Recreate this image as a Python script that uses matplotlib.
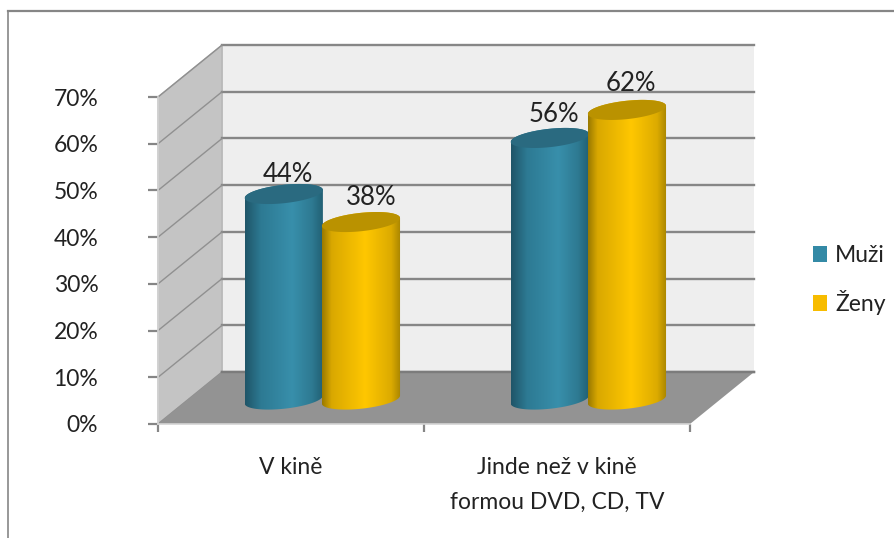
import numpy as np
import matplotlib
matplotlib.use('Agg')
import matplotlib.pyplot as plt
from matplotlib.colors import LinearSegmentedColormap
from matplotlib.lines import Line2D
from matplotlib.patches import Polygon, Rectangle

plt.rcParams['font.family'] = ['Lato', 'DejaVu Sans']

categories = ['V kině', 'Jinde než v kině\nformou DVD, CD, TV']
series_names = ['Muži', 'Ženy']
muzi = [44, 56]
zeny = [38, 62]
y_ticks = [0, 10, 20, 30, 40, 50, 60, 70]
y_labels = ['0%', '10%', '20%', '30%', '40%', '50%', '60%', '70%']

W, H = 895, 538
PX_X = 265.5   # pixels per category
PX_Y = 4.67    # pixels per percent
DEPTH_X = 64 / PX_X
DEPTH_Y = 52 / PX_Y
GREY = '#868686'
TEXT = '#222222'

fig = plt.figure(figsize=(W / 100, H / 100), dpi=100)
ax = fig.add_axes([158 / W, (H - 424) / H, 532 / W, 327 / H])
ax.patch.set_visible(False)

# chart frame
fig.add_artist(Line2D([8 / W, 1], [1 - 11 / H, 1 - 11 / H], color=GREY, lw=1.6))
fig.add_artist(Line2D([8 / W, 8 / W], [0, 1 - 11 / H], color=GREY, lw=1.2))

# walls and floor
back = Polygon([(DEPTH_X, DEPTH_Y), (2 + DEPTH_X, DEPTH_Y), (2 + DEPTH_X, 70 + DEPTH_Y), (DEPTH_X, 70 + DEPTH_Y)],
               fc='#eeeeee', ec='none', clip_on=False, zorder=1)
side = Polygon([(0, 0), (DEPTH_X, DEPTH_Y), (DEPTH_X, 70 + DEPTH_Y), (0, 70)],
               fc='#c4c4c4', ec='#b4b4b4', lw=1, clip_on=False, zorder=1)
floor = Polygon([(0, 0), (2, 0), (2 + DEPTH_X, DEPTH_Y), (DEPTH_X, DEPTH_Y)],
                fc='#939393', ec='none', clip_on=False, zorder=1.2)
ax.add_patch(back)
ax.add_patch(side)
ax.add_patch(floor)

for v in y_ticks:
    ax.plot([DEPTH_X, 2 + DEPTH_X], [v + DEPTH_Y, v + DEPTH_Y], color=GREY, lw=1.7, clip_on=False, zorder=1.1)
    ax.plot([0, DEPTH_X], [v, v + DEPTH_Y], color='#909090', lw=1, clip_on=False, zorder=1.1)
ax.plot([DEPTH_X, 2 + DEPTH_X], [DEPTH_Y, DEPTH_Y], color='#7c7c7c', lw=1.7, clip_on=False, zorder=1.3)


def ring(cx, cy, t):
    # sheared ellipse of the cylinder ends, right side a little higher
    x = cx + 39 / PX_X * np.cos(t)
    y = cy + (9.2 * np.sin(t) + 4 * np.cos(t)) / PX_Y
    return np.column_stack([x, y])


def cylinder(cx, value, cmap, cap_color, z, off):
    base = DEPTH_Y * 0.47
    top = base + value
    low = ring(cx, base, np.linspace(np.pi, 2 * np.pi, 60))
    up = ring(cx, top, np.linspace(0, np.pi, 60))
    body = Polygon(np.vstack([low, up]), fc='none', ec='none', transform=ax.transData)
    grad = np.linspace(0, 1, 128).reshape(1, -1)
    im = ax.imshow(grad, cmap=cmap, aspect='auto', interpolation='bilinear', zorder=z,
                   extent=[cx - 39 / PX_X, cx + 39 / PX_X, base - 3, top + 3])
    im.set_clip_path(body)
    ax.add_patch(Polygon(ring(cx, top, np.linspace(0, 2 * np.pi, 120)), fc=cap_color, ec='none',
                         clip_on=False, zorder=z + 0.01))
    ax.annotate(f'{value}%', (cx, top), xytext=off, textcoords='offset pixels', ha='center', va='center',
                fontsize=18.5, color=TEXT, zorder=z + 0.02, annotation_clip=False)


teal = LinearSegmentedColormap.from_list('teal', [(0, '#1f5568'), (0.2, '#2d7a93'), (0.6, '#388fab'),
                                                  (0.85, '#2e7a92'), (1, '#215e72')])
gold = LinearSegmentedColormap.from_list('gold', [(0, '#9a7a00'), (0.12, '#d9a800'), (0.55, '#ffc700'),
                                                  (0.88, '#dcab00'), (1, '#a88500')])

muzi_off = [(4, 20), (4, 23)]
zeny_off = [(10, 25), (4, 26)]
for i in range(len(categories)):
    cylinder(i + 0.5 + 0.118 - 0.145, muzi[i], teal, '#2a6a80', 3 + i, muzi_off[i])
    cylinder(i + 0.5 + 0.118 + 0.145, zeny[i], gold, '#ba9200', 3.5 + i, zeny_off[i])

ax.set_xlim(0, 2)
ax.set_ylim(0, 70)
ax.set_xticks([0, 1, 2])
ax.set_xticklabels([])
ax.set_xticks([0.5, 1.5], minor=True)
ax.set_xticklabels(categories, minor=True, fontsize=16.5, color=TEXT, linespacing=1.8)
ax.set_yticks(y_ticks)
ax.set_yticklabels(y_labels, fontsize=16.5, color=TEXT)
ax.tick_params(axis='x', which='major', length=6, width=1.6, color=GREY)
ax.tick_params(axis='x', which='minor', length=0, pad=24)
ax.tick_params(axis='y', length=7, width=1.6, color=GREY, pad=36)

for name in ['top', 'right']:
    ax.spines[name].set_visible(False)
for name in ['left', 'bottom']:
    ax.spines[name].set_color('#d4d4d4')
    ax.spines[name].set_linewidth(1.2)

handles = [Rectangle((0, 0), 1, 1, fc='#348aa6', ec='none'), Rectangle((0, 0), 1, 1, fc='#f7bc00', ec='none')]
fig.legend(handles, series_names, loc='center left', bbox_to_anchor=(806 / W, 1 - 280 / H), frameon=False,
           fontsize=16.5, labelcolor=TEXT, handlelength=0.62, handleheight=0.7, handletextpad=0.35,
           labelspacing=1.05, borderaxespad=0, borderpad=0.3)

fig.savefig('out.png', dpi=100)
